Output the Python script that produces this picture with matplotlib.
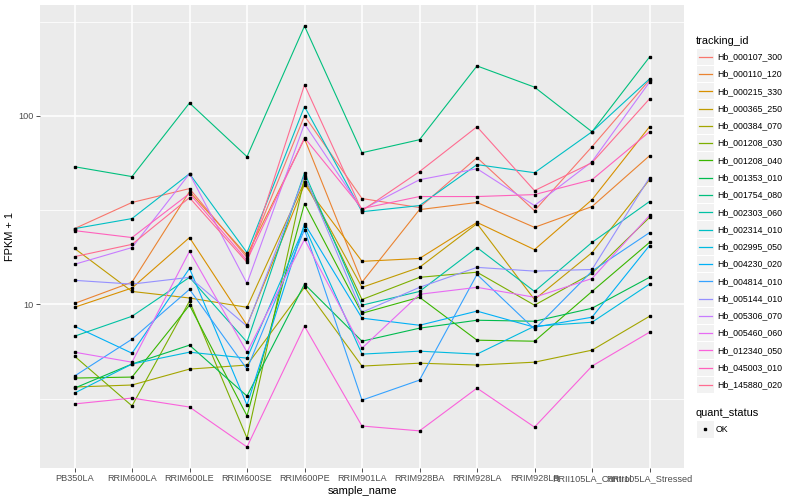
import matplotlib
matplotlib.use('Agg')
import matplotlib.pyplot as plt
import matplotlib.patches as patches
from matplotlib.lines import Line2D
import numpy as np

plt.rcParams['font.family'] = ['Liberation Sans', 'DejaVu Sans']

samples = ['PB350LA', 'RRIM600LA', 'RRIM600LE', 'RRIM600SE', 'RRIM600PE', 'RRIM901LA',
           'RRIM928BA', 'RRIM928LA', 'RRIM928LB', 'RRII105LA_Control', 'RRII105LA_Stressed']

tracking_ids = ['Hb_000107_300', 'Hb_000110_120', 'Hb_000215_330', 'Hb_000365_250',
                'Hb_000384_070', 'Hb_001208_030', 'Hb_001208_040', 'Hb_001353_010',
                'Hb_001754_080', 'Hb_002303_060', 'Hb_002314_010', 'Hb_002995_050',
                'Hb_004230_020', 'Hb_004814_010', 'Hb_005144_010', 'Hb_005306_070',
                'Hb_005460_060', 'Hb_012340_050', 'Hb_045003_010', 'Hb_145880_020']

# ggplot hue palette for 20 levels
colors = ['#F8766D', '#EA8331', '#D89000', '#C09B00', '#A3A500', '#7CAE00', '#39B600',
          '#00BB4E', '#00BF7D', '#00C1A3', '#00BFC4', '#00BAE0', '#00B0F6', '#35A2FF',
          '#9590FF', '#C77CFF', '#E76BF3', '#FA62DB', '#FF62BC', '#FF6C91']

# FPKM + 1, one list per gene, in sample order
hb_000107_300 = [25.2, 34.7, 41.1, 17.7, 100, 36.4, 32.6, 60.0, 31.4, 68.6, 155]
hb_000110_120 = [10.1, 13.1, 39.6, 18.2, 75.6, 13.1, 31.8, 34.7, 25.6, 33.0, 61.4]
hb_000215_330 = [9.64, 12.2, 22.6, 7.74, 43.2, 16.9, 17.5, 27.2, 19.5, 35.9, 87.5]
hb_000365_250 = [19.8, 11.7, 10.8, 9.64, 44.7, 12.3, 15.7, 26.8, 10.6, 18.8, 45.8]
hb_000384_070 = [3.64, 3.73, 4.53, 4.76, 12.3, 4.70, 4.87, 4.76, 4.93, 5.71, 8.64]
hb_001208_030 = [5.31, 2.89, 10.4, 1.95, 47.0, 10.6, 13.9, 14.8, 9.89, 14.6, 28.9]
hb_001208_040 = [4.06, 4.11, 9.89, 2.56, 34.2, 8.96, 10.9, 6.45, 6.37, 11.7, 21.3]
hb_001353_010 = [3.59, 4.82, 6.07, 3.26, 12.8, 6.37, 7.47, 8.23, 8.13, 9.53, 13.9]
hb_001754_080 = [53.7, 47.6, 117, 60.7, 299.5, 63.7, 74.7, 184, 142, 82.3, 205]
hb_002303_060 = [6.77, 8.64, 13.9, 6.30, 49.9, 9.89, 11.7, 20.0, 11.7, 21.3, 35.1]
hb_002314_010 = [25.2, 28.5, 49.3, 18.8, 112, 31.0, 33.4, 55.1, 49.9, 82.3, 157]
hb_002995_050 = [3.38, 4.82, 5.57, 5.18, 25.9, 5.44, 5.64, 5.44, 7.65, 8.03, 12.8]
hb_004230_020 = [7.65, 5.50, 15.5, 2.92, 26.8, 8.44, 7.74, 9.2, 7.56, 8.54, 20.5]
hb_004814_010 = [4.16, 6.53, 12.0, 4.53, 24.9, 3.10, 3.96, 14.4, 7.38, 15.0, 24.0]
hb_005144_010 = [13.4, 12.8, 13.9, 7.65, 48.1, 9.07, 12.3, 15.7, 15.0, 15.3, 47.0]
hb_005306_070 = [16.3, 20.0, 49.3, 12.9, 90.7, 31.8, 45.8, 52.4, 33.4, 57.1, 151]
hb_005460_060 = [5.57, 4.93, 19.1, 5.57, 22.1, 5.85, 11.3, 12.3, 10.9, 13.7, 29.6]
hb_012340_050 = [2.96, 3.18, 2.85, 1.75, 7.65, 2.26, 2.13, 3.59, 2.23, 4.70, 7.11]
hb_045003_010 = [24.6, 22.6, 38.7, 17.1, 76.5, 32.2, 37.3, 37.3, 38.2, 45.8, 82.3]
hb_145880_020 = [17.9, 20.8, 36.8, 16.7, 146, 31.4, 50.6, 87.5, 40.1, 56.4, 123]

series = [hb_000107_300, hb_000110_120, hb_000215_330, hb_000365_250, hb_000384_070,
          hb_001208_030, hb_001208_040, hb_001353_010, hb_001754_080, hb_002303_060,
          hb_002314_010, hb_002995_050, hb_004230_020, hb_004814_010, hb_005144_010,
          hb_005306_070, hb_005460_060, hb_012340_050, hb_045003_010, hb_145880_020]

W, H = 800, 500
fig = plt.figure(figsize=(W / 100, H / 100), dpi=100)
ax = fig.add_axes([40 / W, 1 - 468 / H, 644 / W, 463 / H])
ax.set_facecolor('#EBEBEB')
for s in ax.spines.values():
    s.set_visible(False)

x = np.arange(len(samples))
for vals, c in zip(series, colors):
    ax.plot(x, vals, color=c, lw=0.8, zorder=2)
for vals in series:
    ax.plot(x, vals, ls='none', marker='s', ms=2.1, color='black', zorder=3)

ax.set_yscale('log')
allv = np.log10(np.concatenate([np.array(v, float) for v in series]))
lo, hi = allv.min(), allv.max()
pad = 0.05 * (hi - lo)
ax.set_ylim(10 ** (lo - pad), 10 ** (hi + pad))
ax.set_xlim(-0.6, len(samples) - 0.4)

ax.set_yticks([10, 100], labels=['10', '100'])
ax.set_yticks([10 ** 0.5, 10 ** 1.5, 10 ** 2.5], minor=True)
ax.yaxis.set_minor_formatter(matplotlib.ticker.NullFormatter())
ax.set_xticks(x, labels=samples)
ax.tick_params(which='major', length=2.6, width=0.6, color='#333333',
               labelcolor='#4D4D4D', labelsize=6.6, pad=2)
ax.tick_params(which='minor', length=0)
ax.grid(which='major', color='white', lw=1.1, zorder=0)
ax.grid(which='minor', axis='y', color='white', lw=0.55, zorder=0)
ax.set_axisbelow(True)

ax.set_xlabel('sample_name', fontsize=7.9, labelpad=2)
ax.set_ylabel('FPKM + 1', fontsize=7.9, labelpad=2)


def fx(px):
    return px / W


def fy(py):
    return 1 - py / H


# legend: tracking_id
fig.text(fx(696), fy(41), 'tracking_id', fontsize=7.9, va='center', ha='left')
step = 17.28
for i, (name, c) in enumerate(zip(tracking_ids, colors)):
    cy = 56.7 + step * i
    fig.add_artist(patches.Rectangle((fx(697), fy(cy + 8.2)), 16.5 / W, 16.4 / H,
                                     transform=fig.transFigure, facecolor='#F2F2F2',
                                     edgecolor='none'))
    fig.add_artist(Line2D([fx(699), fx(712)], [fy(cy), fy(cy)], color=c, lw=0.9,
                          transform=fig.transFigure))
    fig.text(fx(717), fy(cy), name, fontsize=6.3, va='center', ha='left')

# legend: quant_status
fig.text(fx(696), fy(413), 'quant_status', fontsize=7.9, va='center', ha='left')
fig.add_artist(patches.Rectangle((fx(697), fy(437.5)), 16.5 / W, 16.4 / H,
                                 transform=fig.transFigure, facecolor='#F2F2F2',
                                 edgecolor='none'))
fig.add_artist(Line2D([fx(705)], [fy(429.3)], marker='s', ms=2.1, color='black',
                      ls='none', transform=fig.transFigure))
fig.text(fx(716), fy(429.3), 'OK', fontsize=6.3, va='center', ha='left')

fig.savefig('out.png', dpi=100, facecolor='white')
